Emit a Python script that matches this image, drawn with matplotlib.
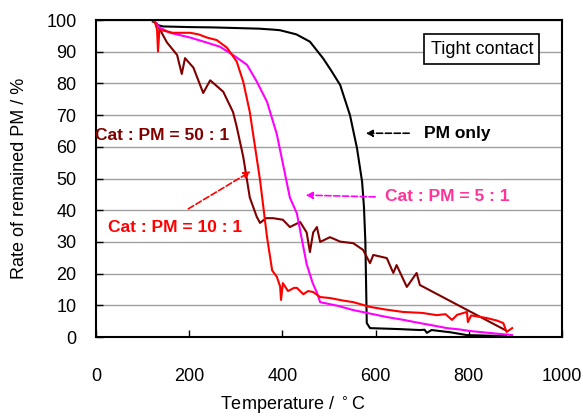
import matplotlib.pyplot as plt
import numpy as np

plt.rcParams['font.family'] = ['Liberation Sans', 'DejaVu Sans']

# PM only
t_pm = [130, 144, 200, 250, 300, 350, 380, 395, 430, 459, 487, 505, 524, 545, 560, 571,
        575, 578, 581, 588, 650, 695, 705, 710, 720, 760, 796, 850, 880]
y_pm = [98.5, 98, 97.8, 97.7, 97.5, 97.3, 97, 96.8, 95.5, 93.2, 88, 84, 79.5, 70, 59.6, 49,
        41, 30, 4.4, 2.8, 2.5, 2.2, 2.3, 1.3, 2.2, 1.5, 0.6, 0.4, 0.3]

# Cat : PM = 5 : 1
t_5 = [125, 137, 159, 202, 238, 266, 294, 324, 345, 367, 388, 416, 431, 452, 465, 474,
       481, 520, 552, 588, 624, 660, 695, 725, 753, 780, 802, 850, 893]
y_5 = [99.5, 97.6, 96, 94.5, 92.9, 91.6, 89, 85.9, 80.6, 74.2, 64, 44, 39, 23, 17, 14,
       11, 9.8, 8.5, 7.4, 6.3, 5.4, 4.4, 3.6, 2.8, 2.4, 1.9, 1.2, 0.6]

# Cat : PM = 10 : 1
t_10 = [125, 131, 133, 136, 150, 165, 202, 220, 238, 259, 281, 302, 316, 330, 352, 367,
        378, 388, 395, 397, 401, 412, 425, 431, 445, 455, 466, 481, 502, 530, 552, 588,
        620, 659, 700, 731, 750, 764, 775, 796, 798, 805, 838, 860, 874, 881, 893]
y_10 = [100, 97, 90.1, 97, 96.5, 96, 96, 95.5, 94.5, 93.7, 91.3, 86.9, 80.5, 71, 49.5, 31.5,
        21, 19, 16, 11.7, 17, 14.5, 15.5, 15.5, 13.5, 14.5, 14.2, 12.6, 12.3, 11.5, 11, 9.5,
        8.7, 7.9, 7.6, 6.9, 7.2, 5.4, 7, 7.9, 4.7, 6.8, 6, 5.2, 4.4, 1.6, 2.8]

# Cat : PM = 50 : 1
t_50 = [122, 130, 152, 174, 184, 191, 209, 230, 245, 273, 294, 302, 316, 330, 345, 352,
        365, 380, 401, 416, 438, 452, 459, 466, 474, 481, 502, 524, 552, 573, 588, 595,
        624, 638, 645, 667, 688, 695, 878]
y_50 = [99.5, 99, 93, 89, 83, 88, 85, 77, 81, 77.4, 71, 66.3, 56.8, 44, 37.9, 36,
        37.5, 37.5, 37, 34.7, 36.3, 33, 26.8, 33, 34.7, 30, 31.5, 30.1, 29.6, 27.5, 23.3, 25.9,
        24.9, 20.2, 22.7, 15.8, 20.2, 16.4, 2.2]

fig = plt.figure(figsize=(5.83, 4.19), dpi=100)
ax = fig.add_axes([0.1647, 0.1957, 0.7993, 0.7563])

ax.plot(t_pm, y_pm, color='black', lw=1.5)
ax.plot(t_50, y_50, color='#800000', lw=1.5)
ax.plot(t_5, y_5, color='#ff00ff', lw=1.5)
ax.plot(t_10, y_10, color='#ff0000', lw=1.5)

ax.set_xlim(0, 1000)
ax.set_ylim(0, 100)
ax.set_xticks(np.arange(0, 1001, 200))
ax.set_yticks(np.arange(0, 101, 10))
ax.yaxis.grid(True, color='#a0a0a0', lw=1)
ax.set_axisbelow(True)
ax.tick_params(direction='in', length=5, width=1, labelsize=13)
ax.tick_params(axis='x', pad=22)
ax.tick_params(axis='y', pad=14)
for s in ax.spines.values():
    s.set_linewidth(1.5)

fig.text(293 / 583, 1 - 405 / 419, 'Temperature / $^\\circ$C', fontsize=13,
         ha='center', va='center')
fig.text(20 / 583, 0.574, 'Rate of remained PM / %', fontsize=13,
         ha='center', va='center', rotation=90)

ax.text(828, 90.8, 'Tight contact', fontsize=13, ha='center', va='center',
        bbox=dict(boxstyle='square,pad=0.35', fc='white', ec='black', lw=1.2))

bold = dict(fontsize=12.5, fontweight='bold', va='center')
ax.text(704, 64.3, 'PM only', color='black', ha='left', **bold)
ax.annotate('', xy=(573, 64.3), xytext=(678, 64.3),
            arrowprops=dict(arrowstyle='-|>', ls='--', color='black', lw=1.2))

ax.text(753, 44.2, 'Cat : PM = 5 : 1', color='#ff3399', ha='center', **bold)
ax.annotate('', xy=(444, 44.8), xytext=(605, 44.2),
            arrowprops=dict(arrowstyle='-|>', ls='--', color='#ff00ff', lw=1.2))

ax.text(142, 63.7, 'Cat : PM = 50 : 1', color='#800000', ha='center', **bold)

ax.text(170, 34.4, 'Cat : PM = 10 : 1', color='#ff0000', ha='center', **bold)
ax.annotate('', xy=(337, 52.7), xytext=(193, 40),
            arrowprops=dict(arrowstyle='-|>', ls='--', color='#ff0000', lw=1.2))

fig.savefig('out.png', dpi=100)
